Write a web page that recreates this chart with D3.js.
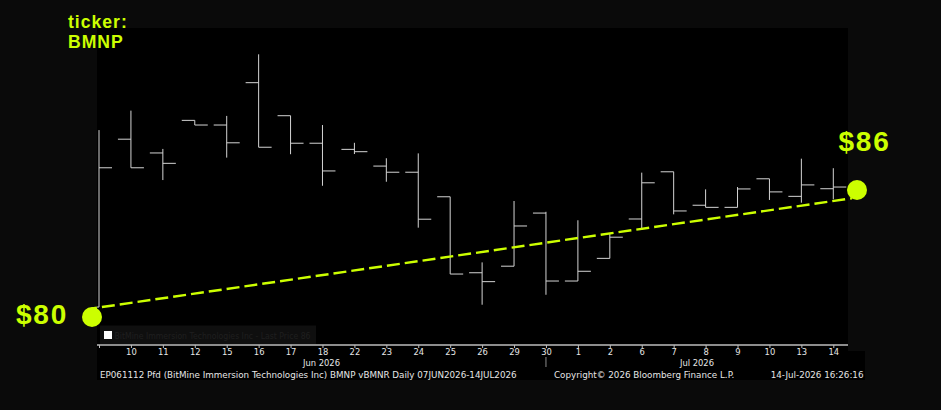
<!DOCTYPE html>
<html>
<head>
<meta charset="utf-8">
<script src="https://cdn.jsdelivr.net/npm/d3@7/dist/d3.min.js"></script>
<style>
  html, body { margin: 0; padding: 0; background: #0a0a0a; }
  svg { display: block; }
</style>
</head>
<body>
<svg id="chart" width="941" height="410"></svg>
<script>
// ---------- data ----------
const dates = ["2026-06-09","2026-06-10","2026-06-11","2026-06-12","2026-06-15","2026-06-16","2026-06-17","2026-06-18",
  "2026-06-22","2026-06-23","2026-06-24","2026-06-25","2026-06-26","2026-06-29","2026-06-30",
  "2026-07-01","2026-07-02","2026-07-06","2026-07-07","2026-07-08","2026-07-09","2026-07-10","2026-07-13","2026-07-14"];
const opens  = [80.47,88.40,87.75,89.29,89.07,91.07,89.51,88.21,87.92,87.13,86.84,85.68,82.09,82.40,84.91,81.70,82.77,84.63,86.86,85.28,85.18,86.53,85.70,86.06];
const highs  = [88.83,89.75,87.94,89.29,89.50,92.41,89.51,89.07,88.23,87.50,87.73,85.68,82.58,85.48,84.97,84.57,83.95,86.82,86.86,86.03,86.14,86.53,87.48,87.03];
const lows   = [80.47,87.05,86.47,89.07,87.53,88.02,87.69,86.20,87.70,86.39,84.22,82.03,80.58,82.40,81.05,81.70,82.77,84.11,84.85,85.18,85.18,85.53,85.40,85.56];
const closes = [87.05,87.05,87.26,89.07,88.23,88.02,88.21,86.90,87.81,86.84,84.62,82.03,81.67,84.30,81.70,82.16,83.77,86.34,85.01,85.18,86.05,85.91,86.24,86.14];
const tickLabels = ["","10","11","12","15","16","17","18","22","23","24","25","26","29","30","1","2","6","7","8","9","10","13","14"];
const monthLabels = ["Jun 2026","Jul 2026"];
const monthBreakDate = "2026-06-30";
const trendPrices = [80.45, 85.48];          // dashed trend: first-day and last-day level
const markPrices = [80, 86];                 // highlighted start / end prices
const markLabels = ["$80", "$86"];
const titleLines = ["ticker:", "BMNP"];
const legendText = "BitMine Immersion Technologies Inc - Last Price 86";
const footerLeft = "EP061112 Pfd (BitMine Immersion Technologies Inc) BMNP vBMNR Daily 07JUN2026-14JUL2026";
const footerMid = "Copyright\u00A9 2026 Bloomberg Finance L.P.";
const footerRight = "14-Jul-2026 16:26:16";

// ---------- layout ----------
const W = 941, H = 410;
const plot = { left: 97, right: 848, top: 28, bottom: 345 };
const accent = "#ccff00";
const barColor = "#d4d4d4";
const tickW = 13;
const uiFont = "DejaVu Sans, sans-serif";

const svg = d3.select("#chart");

const x = d3.scalePoint().domain(dates).range([99, 833.3]);
const y = d3.scaleLinear().domain([80, 86]).range([317, 190]);

// backgrounds
svg.append("rect").attr("x", 0).attr("y", 0).attr("width", W).attr("height", H).attr("fill", "#0a0a0a");
svg.append("rect").attr("x", plot.left).attr("y", plot.top)
  .attr("width", plot.right - plot.left).attr("height", 351 - plot.top).attr("fill", "#000");
svg.append("rect").attr("x", plot.left).attr("y", 351)
  .attr("width", 865 - plot.left).attr("height", 29).attr("fill", "#000");

svg.append("defs").append("clipPath").attr("id", "clip")
  .append("rect").attr("x", plot.left).attr("y", plot.top)
  .attr("width", plot.right - plot.left).attr("height", plot.bottom - plot.top);

// OHLC bars
const bars = dates.map((d, i) => ({ d, o: opens[i], h: highs[i], l: lows[i], c: closes[i] }));
const g = svg.append("g").attr("clip-path", "url(#clip)");
const bg = g.selectAll("g.bar").data(bars).join("g").attr("class", "bar")
  .attr("stroke", barColor).attr("stroke-width", 1).attr("fill", "none");
bg.append("line").attr("x1", b => x(b.d)).attr("x2", b => x(b.d)).attr("y1", b => y(b.h)).attr("y2", b => y(b.l));
bg.append("line").attr("x1", b => x(b.d) - tickW).attr("x2", b => x(b.d)).attr("y1", b => y(b.o)).attr("y2", b => y(b.o));
bg.append("line").attr("x1", b => x(b.d)).attr("x2", b => x(b.d) + tickW).attr("y1", b => y(b.c)).attr("y2", b => y(b.c));

// legend box
svg.append("rect").attr("x", 100).attr("y", 325.5).attr("width", 216).attr("height", 18.5).attr("fill", "#0f0f0f");
svg.append("rect").attr("x", 104).attr("y", 331).attr("width", 8).attr("height", 8).attr("fill", "#fff");
svg.append("text").attr("x", 114.5).attr("y", 339).attr("fill", "#1f1f1f")
  .attr("font-family", uiFont).attr("font-size", 8.6)
  .attr("textLength", 196).attr("lengthAdjust", "spacingAndGlyphs").text(legendText);

// x axis
const axis = d3.axisBottom(x).tickSize(3).tickPadding(1)
  .tickFormat((d, i) => tickLabels[i]);
const ax = svg.append("g").attr("transform", `translate(0,${plot.bottom})`).call(axis);
ax.select(".domain").attr("d", `M${plot.left},0H${plot.right}`).attr("stroke", "#bdbdbd").attr("stroke-width", 1.6);
ax.selectAll(".tick line").attr("stroke", "#bdbdbd");
ax.selectAll(".tick text").attr("fill", "#e6e6e6").attr("font-family", uiFont).attr("font-size", 8.4);

// month separator + month labels
const sepX = x(monthBreakDate);
svg.append("line").attr("x1", sepX).attr("x2", sepX).attr("y1", 357).attr("y2", 367)
  .attr("stroke", "#8a8a8a").attr("stroke-width", 1);
const monthCenters = [(plot.left + sepX) / 2, (sepX + plot.right) / 2];
svg.selectAll("text.month").data(monthLabels).join("text").attr("class", "month")
  .attr("x", (d, i) => monthCenters[i]).attr("y", 366).attr("text-anchor", "middle")
  .attr("fill", "#e6e6e6").attr("font-family", uiFont).attr("font-size", 8.4).text(d => d);

// footer
const footer = svg.append("g").attr("fill", "#e6e6e6").attr("font-family", uiFont).attr("font-size", 8.75);
footer.append("text").attr("x", 100).attr("y", 377.5).text(footerLeft);
footer.append("text").attr("x", 554).attr("y", 377.5).text(footerMid);
footer.append("text").attr("x", 863.5).attr("y", 377.5).attr("text-anchor", "end").text(footerRight);

// trend dashed line (extended from first to last bar level)
const x0 = x(dates[0]), x1 = x(dates[dates.length - 1]);
const markX = [x0 - 7, plot.right + 9];
const trendAt = px => trendPrices[0] + (trendPrices[1] - trendPrices[0]) * (px - x0) / (x1 - x0);
svg.append("line")
  .attr("x1", markX[0]).attr("y1", y(trendAt(markX[0])))
  .attr("x2", markX[1] - 5).attr("y2", y(trendAt(markX[1] - 5)))
  .attr("stroke", accent).attr("stroke-width", 2.4).attr("stroke-dasharray", "13,5").attr("stroke-dashoffset", 8);

// markers
svg.selectAll("circle.mark").data(markPrices).join("circle").attr("class", "mark")
  .attr("cx", (d, i) => markX[i]).attr("cy", d => y(d)).attr("r", 10).attr("fill", accent);

const lab = svg.append("g").attr("fill", accent).attr("font-family", "Liberation Sans, Arial, sans-serif")
  .attr("font-weight", "bold").attr("font-size", 28).attr("letter-spacing", 1.8);
lab.append("text").attr("x", 16).attr("y", y(markPrices[0]) + 6.5).text(markLabels[0]);
lab.append("text").attr("x", 838.5).attr("y", y(markPrices[1]) - 39).text(markLabels[1]);

// title
svg.selectAll("text.title").data(titleLines).join("text").attr("class", "title")
  .attr("x", 68).attr("y", (d, i) => 28 + i * 20)
  .attr("fill", accent).attr("font-family", "Liberation Sans, Arial, sans-serif")
  .attr("font-weight", "bold").attr("font-size", 17.6).attr("letter-spacing", 1).text(d => d);
</script>
</body>
</html>
